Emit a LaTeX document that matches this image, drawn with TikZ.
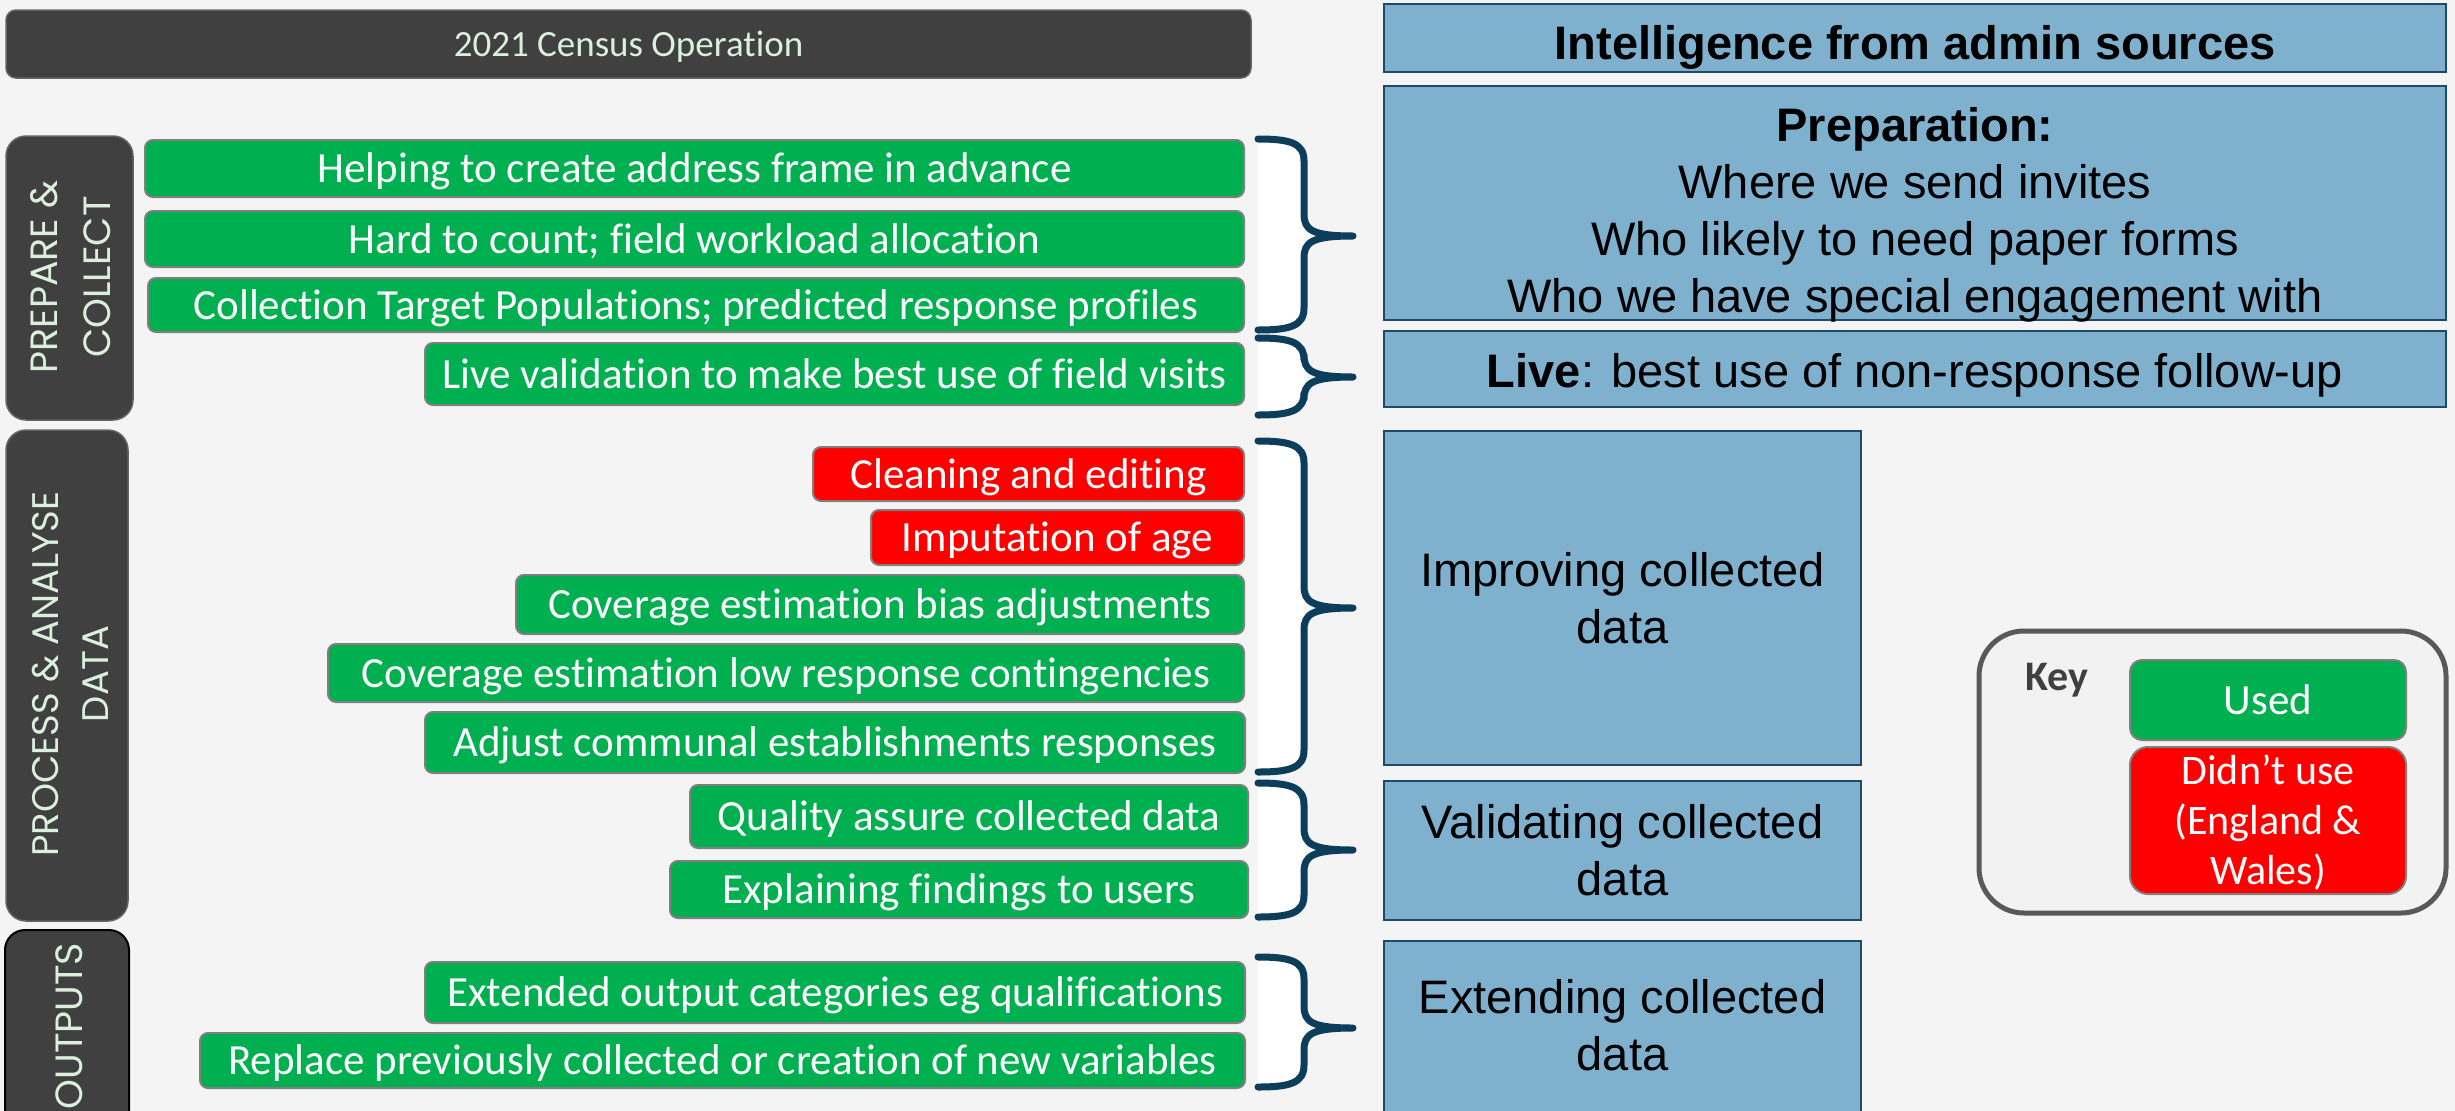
\documentclass[tikz,border=0pt]{standalone}
\usepackage{fontspec}
\setmainfont{Carlito}[Ligatures={NoCommon}]
\newfontfamily\arialf{Liberation Sans}
\newfontfamily\gothf{Poppins}
\definecolor{bgcol}{RGB}{244,244,244}
\definecolor{darkcol}{RGB}{64,64,64}
\definecolor{darkedge}{RGB}{100,100,100}
\definecolor{labelcol}{RGB}{218,240,220}
\definecolor{usedgreen}{RGB}{0,176,80}
\definecolor{notred}{RGB}{255,0,0}
\definecolor{bargrey}{RGB}{127,127,127}
\definecolor{bluefill}{RGB}{127,177,207}
\definecolor{blueedge}{RGB}{28,74,104}
\definecolor{bracecol}{RGB}{12,62,92}
\definecolor{keyfill}{RGB}{242,242,242}
\definecolor{keyedge}{RGB}{89,89,89}
\newcommand\mkbox[7]{\node[#1, minimum width=#5pt-#3pt, minimum height=#6pt-#4pt] (#2) at ({(#3+#5)/2},{(#4+#6)/2}) {#7};}
\newcommand\dobrace[3]{%
  \fill[white] (1258,#1) .. controls (1290,#1) and (1304,#1+4) .. (1304,#1+22) -- (1304,#3-22) .. controls (1304,#3-4) and (1290,#3) .. (1258,#3) -- cycle;
  \draw[bracestyle] (1258,#1) .. controls (1290,#1) and (1304,#1+4) .. (1304,#1+22) -- (1304,#2-22) .. controls (1304,#2-6) and (1312,#2) .. (1353,#2) .. controls (1312,#2) and (1304,#2+6) .. (1304,#2+22) -- (1304,#3-22) .. controls (1304,#3-4) and (1290,#3) .. (1258,#3);
}
\begin{document}
\begin{tikzpicture}[x=1pt,y=-1pt,
  darkbox/.style={fill=darkcol, draw=darkedge, line width=1.5pt, rounded corners=20pt, inner sep=0pt, outer sep=0pt},
  barbase/.style={draw=bargrey, line width=2pt, rounded corners=8pt, text=white, font=\fontsize{43}{51}\selectfont, inner sep=0pt, outer sep=0pt, text height=28pt, text depth=0pt},
  greenbar/.style={barbase, fill=usedgreen},
  redbar/.style={barbase, fill=notred},
  bluebox/.style={draw=blueedge, line width=2.5pt, fill=bluefill, inner sep=0pt, outer sep=0pt, font=\arialf\fontsize{47}{57}\selectfont},
  bluetext/.style={align=center, inner sep=0pt, font=\arialf\fontsize{47}{57}\selectfont},
  vlabel/.style={rotate=90, text=labelcol, align=center, inner sep=0pt},
  bracestyle/.style={draw=bracecol, line width=7pt, line cap=round, line join=round}]
\useasboundingbox (0,0) rectangle (2455,1111);
\fill[bgcol] (0,0) rectangle (2455,1111);

% title
\mkbox{darkbox, rounded corners=10pt, text=labelcol, font=\fontsize{37}{44}\selectfont, text height=24pt, text depth=0pt}{title}{6}{10}{1251}{78}{2021 Census Operation}

% side section boxes
\mkbox{darkbox}{prep}{6}{136}{133}{420}{}
\mkbox{darkbox}{proc}{6}{430}{128}{921}{}
\mkbox{darkbox, draw=black, line width=2pt}{outp}{5}{930}{129}{1170}{}
\node[vlabel, font=\gothf\fontsize{38}{53}\selectfont] (preplabel) at (73,277) {\strut PREPARE \&\\\strut COLLECT};
\node[vlabel, font=\gothf\fontsize{37}{50}\selectfont] (proclabel) at (73,674) {\strut PROCESS \& ANALYSE\\\strut DATA};
\node[vlabel, font=\gothf\fontsize{38}{50}\selectfont] (outplabel) at (72,1026) {\strut OUTPUTS};

% bars
\mkbox{greenbar}{b1}{145}{140}{1244}{197}{Helping to create address frame in advance}
\mkbox{greenbar}{b2}{145}{211}{1244}{267}{Hard to count; field workload allocation}
\mkbox{greenbar}{b3}{148}{278}{1244}{332}{Collection Target Populations; predicted response profiles}
\mkbox{greenbar}{b4}{425}{343}{1244}{405}{Live validation to make best use of field visits}
\mkbox{redbar}{b5}{813}{447}{1244}{501}{Cleaning and editing}
\mkbox{redbar}{b6}{871}{510}{1244}{565}{Imputation of age}
\mkbox{greenbar}{b7}{516}{575}{1244}{634}{Coverage estimation bias adjustments}
\mkbox{greenbar}{b8}{328}{644}{1244}{702}{Coverage estimation low response contingencies}
\mkbox{greenbar}{b9}{425}{712}{1245}{773}{Adjust communal establishments responses}
\mkbox{greenbar}{b10}{690}{785}{1248}{848}{Quality assure collected data}
\mkbox{greenbar}{b11}{670}{861}{1248}{918}{Explaining findings to users}
\mkbox{greenbar}{b12}{425}{962}{1245}{1023}{Extended output categories eg qualifications}
\mkbox{greenbar}{b13}{200}{1033}{1245}{1088}{Replace previously collected or creation of new variables}

% braces
\dobrace{139}{236}{330}
\dobrace{338}{377}{415}
\dobrace{441}{608}{772}
\dobrace{783}{850}{917}
\dobrace{957}{1028}{1087}

% blue boxes
\mkbox{bluebox, text height=42pt, text depth=0pt}{intel}{1384}{4}{2446}{72}{\bfseries Intelligence from admin sources}
\mkbox{bluebox}{prepbox}{1384}{86}{2446}{320}{}
\node[bluetext] (preptext) at (1915,216) {\strut\textbf{Preparation:}\\\strut Where we send invites\\\strut Who likely to need paper forms\\\strut Who we have special engagement with};
\mkbox{bluebox, text height=36pt, text depth=0pt}{live}{1384}{331}{2446}{407}{\textbf{Live}: best use of non-response follow-up}
\mkbox{bluebox}{improve}{1384}{431}{1861}{765}{}
\node[bluetext] (improvetext) at (1622.5,604) {\strut Improving collected\\\strut data};
\mkbox{bluebox}{validate}{1384}{781}{1861}{920}{}
\node[bluetext] (validatetext) at (1622.5,856) {\strut Validating collected\\\strut data};
\mkbox{bluebox}{extend}{1384}{941}{1861}{1170}{}
\node[bluetext] (extendtext) at (1622.5,1031) {\strut Extending collected\\\strut data};

% key
\mkbox{draw=keyedge, line width=5pt, fill=keyfill, rounded corners=45pt, inner sep=0pt}{key}{1979}{631}{2446}{913}{}
\node[anchor=base, inner sep=0pt, text=darkcol, font=\bfseries\fontsize{42}{50}\selectfont] (keylabel) at (2057,690) {Key};
\mkbox{greenbar, rounded corners=12pt}{used}{2130}{660}{2406}{740}{Used}
\mkbox{redbar, rounded corners=18pt}{notused}{2130}{747}{2406}{894}{}
\node[align=center, inner sep=0pt, text=white, font=\fontsize{42}{50}\selectfont] (notusedtext) at (2268,824.5) {\strut Didn’t use\\\strut (England \&\\\strut Wales)};
\end{tikzpicture}
\end{document}
